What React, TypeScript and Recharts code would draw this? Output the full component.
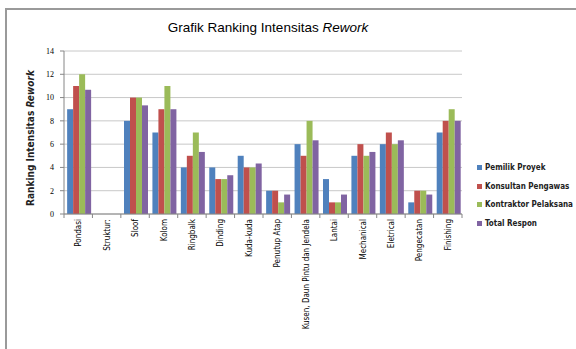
import React from "react";
import { BarChart, Bar, XAxis, YAxis, CartesianGrid } from "recharts";

const categories = [
  "Pondasi", "Struktur:", "Sloof", "Kolom", "Ringbalk", "Dinding", "Kuda-kuda",
  "Penutup Atap", "Kusen, Daun Pintu dan Jendela", "Lantai", "Mechanical",
  "Eletrical", "Pengecatan", "Finishing",
];
const pemilik = [9, null, 8, 7, 4, 4, 5, 2, 6, 3, 5, 6, 1, 7];
const konsultan = [11, null, 10, 9, 5, 3, 4, 2, 5, 1, 6, 7, 2, 8];
const kontraktor = [12, null, 10, 11, 7, 3, 4, 1, 8, 1, 5, 6, 2, 9];
const total = [10.67, null, 9.33, 9, 5.33, 3.33, 4.33, 1.67, 6.33, 1.67, 5.33, 6.33, 1.67, 8];
const yTicks = [0, 2, 4, 6, 8, 10, 12, 14];

const series = [
  { key: "pemilik", name: "Pemilik Proyek", color: "#4F81BD" },
  { key: "konsultan", name: "Konsultan Pengawas", color: "#C0504D" },
  { key: "kontraktor", name: "Kontraktor Pelaksana", color: "#9BBB59" },
  { key: "total", name: "Total Respon", color: "#8064A2" },
];

const data = categories.map((name, i) => ({
  name,
  pemilik: pemilik[i],
  konsultan: konsultan[i],
  kontraktor: kontraktor[i],
  total: total[i],
}));

const W = 576;
const H = 349;
const margin = { top: 51, right: 114, bottom: 15, left: 34 };
const Y_AXIS_W = 30;
const X_AXIS_Y = H - margin.bottom - 120;
const band = (W - margin.left - margin.right - Y_AXIS_W) / categories.length;

const labelFont = "'DejaVu Sans Condensed', 'Liberation Sans Narrow', sans-serif";

// category label rotated, plus Excel-style tick marks on the category boundaries
const XTick = ({ x, index, payload }: { x?: number; y?: number; index?: number; payload?: { value: string } }) => {
  const cx = x ?? 0;
  const cy = X_AXIS_Y;
  const isLast = index === categories.length - 1;
  return (
    <g>
      <line x1={cx - band / 2} y1={cy} x2={cx - band / 2} y2={cy + 4} stroke="#868686" />
      {isLast && <line x1={cx + band / 2} y1={cy} x2={cx + band / 2} y2={cy + 4} stroke="#868686" />}
      <text
        x={0}
        y={0}
        transform={`translate(${cx + 3},${cy + 5}) rotate(-90)`}
        textAnchor="end"
        fontSize={8}
        fontFamily={labelFont}
        fill="#000"
      >
        {payload?.value}
      </text>
    </g>
  );
};

export default function App() {
  return (
    <div style={{ position: "absolute", left: 0, top: 0, width: W, height: H, background: "#fff", overflow: "hidden" }}>
      <div style={{ position: "absolute", left: 5, top: 8, width: 600, height: 400, borderLeft: "2px solid #9a9a9a", borderTop: "2px solid #9a9a9a" }} />
      <BarChart
        width={W}
        height={H}
        data={data}
        margin={margin}
        barCategoryGap="11%"
        barGap={0}
      >
        <text x={268} y={32} textAnchor="middle" fontFamily="'Liberation Sans', Arial, sans-serif" fontSize={13.5} fill="#000">
          Grafik Ranking Intensitas <tspan fontStyle="italic">Rework</tspan>
        </text>
        <text
          transform="translate(34,138) rotate(-90)"
          textAnchor="middle"
          fontFamily={labelFont}
          fontSize={10}
          fontWeight="bold"
          fill="#222"
        >
          Ranking Intensitas <tspan fontStyle="italic">Rework</tspan>
        </text>
        <CartesianGrid vertical={false} stroke="#c8c8c8" />
        <XAxis
          dataKey="name"
          interval={0}
          height={120}
          tick={<XTick />}
          tickLine={false}
          axisLine={{ stroke: "#868686" }}
        />
        <YAxis
          domain={[0, 14]}
          ticks={yTicks}
          interval={0}
          width={Y_AXIS_W}
          tickSize={4}
          tickMargin={6}
          tick={{ fontSize: 8, fontFamily: "'Liberation Serif', serif", fill: "#000" }}
          axisLine={{ stroke: "#868686" }}
          tickLine={{ stroke: "#868686" }}
        />
        {series.map(s => (
          <Bar key={s.key} dataKey={s.key} name={s.name} fill={s.color} isAnimationActive={false} />
        ))}
      </BarChart>
      <div style={{ position: "absolute", left: 477, top: 158, fontFamily: labelFont, fontSize: 8, fontWeight: "bold", color: "#222" }}>
        {series.map(s => (
          <div key={s.key} style={{ display: "flex", alignItems: "center", height: 18.7 }}>
            <span style={{ width: 5, height: 5, background: s.color, marginRight: 3, display: "inline-block" }} />
            {s.name}
          </div>
        ))}
      </div>
    </div>
  );
}
